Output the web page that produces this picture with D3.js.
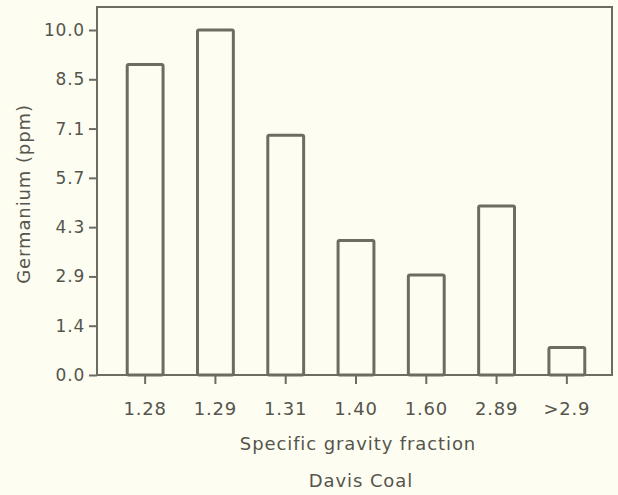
<!DOCTYPE html>
<html>
<head>
<meta charset="utf-8">
<script src="https://cdn.jsdelivr.net/npm/d3@7"></script>
<style>
  body { margin: 0; background: #fdfdf2; }
  text { font-family: "DejaVu Sans", sans-serif; fill: #55554d; }
</style>
</head>
<body>
<div id="chart"></div>
<script>
// data
const fractions = ["1.28", "1.29", "1.31", "1.40", "1.60", "2.89", ">2.9"];
const germanium = [9.0, 10.0, 6.95, 3.9, 2.9, 4.9, 0.8];
const yTickLabels = ["0.0", "1.4", "2.9", "4.3", "5.7", "7.1", "8.5", "10.0"];

const W = 618, H = 495;
const frame = { left: 97, right: 612, top: 7, bottom: 375 };
const ink = "#6c6c62";

const svg = d3.select("#chart")
    .append("svg")
    .attr("width", W)
    .attr("height", H);

const xScale = d3.scaleBand()
    .domain(fractions)
    .range([110, 602])
    .paddingInner(0.49)
    .paddingOuter(0.245);

const yScale = d3.scaleLinear()
    .domain([0, 10])
    .range([frame.bottom, 30]);

// frame
svg.append("rect")
    .attr("x", frame.left)
    .attr("y", frame.top)
    .attr("width", frame.right - frame.left)
    .attr("height", frame.bottom - frame.top)
    .attr("fill", "none")
    .attr("stroke", ink)
    .attr("stroke-width", 2);

// bars
svg.selectAll(".bar")
    .data(germanium)
    .enter().append("rect")
    .attr("class", "bar")
    .attr("x", (d, i) => xScale(fractions[i]))
    .attr("y", d => yScale(d))
    .attr("width", xScale.bandwidth())
    .attr("height", d => frame.bottom - yScale(d))
    .attr("fill", "none")
    .attr("stroke", ink)
    .attr("stroke-width", 3)
    .attr("rx", 1.5);

// y axis, ticks evenly spaced at 10/7 steps
const yTickValues = yTickLabels.map((t, i) => i * 10 / (yTickLabels.length - 1));
svg.append("g")
    .attr("class", "y-axis")
    .attr("transform", `translate(${frame.left}, 0)`)
    .call(d3.axisLeft(yScale)
        .tickValues(yTickValues)
        .tickFormat((d, i) => yTickLabels[i])
        .tickSize(8)
        .tickPadding(4));

// x axis
svg.append("g")
    .attr("class", "x-axis")
    .attr("transform", `translate(0, ${frame.bottom})`)
    .call(d3.axisBottom(xScale).tickSize(9).tickPadding(18));

svg.selectAll(".domain").remove();
svg.selectAll(".tick line")
    .attr("stroke", ink)
    .attr("stroke-width", 2);
svg.selectAll(".tick text")
    .style("font-size", "17px")
    .style("letter-spacing", "0.8px")
    .style("font-family", "'DejaVu Sans', sans-serif")
    .style("fill", "#55554d");
svg.selectAll(".x-axis .tick text")
    .style("font-size", "18px");

// axis titles
svg.append("text")
    .attr("x", 358)
    .attr("y", 450)
    .style("text-anchor", "middle")
    .style("font-size", "18px")
    .style("letter-spacing", "0.9px")
    .text("Specific gravity fraction");

svg.append("text")
    .attr("x", 361)
    .attr("y", 487)
    .style("text-anchor", "middle")
    .style("font-size", "18px")
    .style("letter-spacing", "0.9px")
    .text("Davis Coal");

svg.append("text")
    .attr("transform", "rotate(-90)")
    .attr("x", -194)
    .attr("y", 30)
    .style("text-anchor", "middle")
    .style("font-size", "18px")
    .style("letter-spacing", "0.9px")
    .text("Germanium (ppm)");
</script>
</body>
</html>
